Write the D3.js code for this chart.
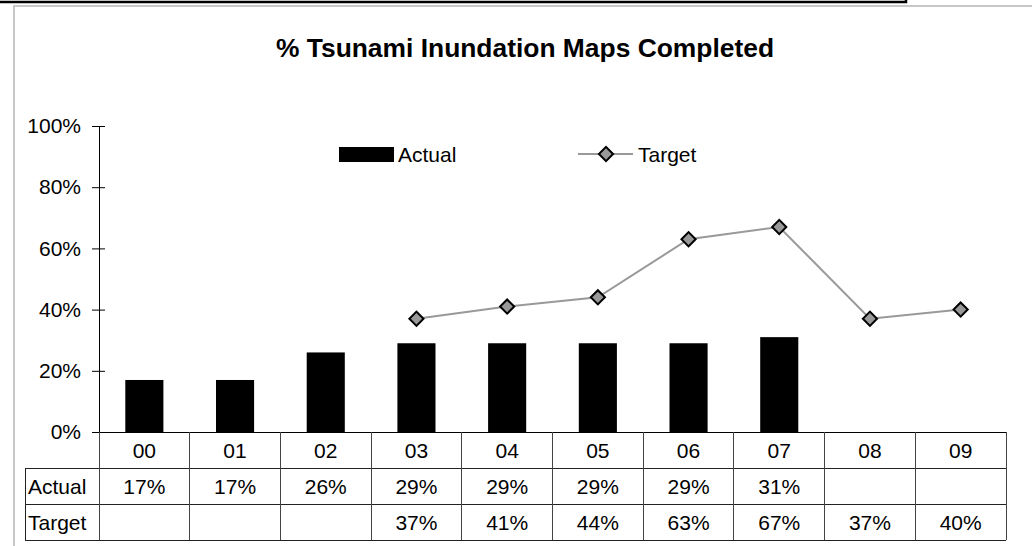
<!DOCTYPE html>
<html>
<head>
<meta charset="utf-8">
<script src="https://cdn.jsdelivr.net/npm/d3@7"></script>
<style>
  body { margin: 0; background: #fff; }
  svg { display: block; font-family: Arial, "Liberation Sans", sans-serif; }
</style>
</head>
<body>
<svg id="chart" width="1032" height="546"></svg>
<script>
// data
var years = ["00", "01", "02", "03", "04", "05", "06", "07", "08", "09"];
var actual = [17, 17, 26, 29, 29, 29, 29, 31, null, null];
var target = [null, null, null, 37, 41, 44, 63, 67, 37, 40];
var yTicks = [0, 20, 40, 60, 80, 100];

var svg = d3.select("#chart");
var fs = 21;

// frame bits from the original slide
svg.append("path")
    .attr("d", "M0,2 H906 V0")
    .attr("fill", "none")
    .attr("stroke", "#000")
    .attr("stroke-width", 2.5);
svg.append("path")
    .attr("d", "M14,546 V6 H1032")
    .attr("fill", "none")
    .attr("stroke", "#c8c8c8")
    .attr("stroke-width", 2);

// title
svg.append("text")
    .attr("x", 276)
    .attr("y", 57)
    .attr("font-size", 25)
    .attr("font-weight", "bold")
    .attr("textLength", 498)
    .attr("lengthAdjust", "spacingAndGlyphs")
    .text("% Tsunami Inundation Maps Completed");

var plotLeft = 99, plotRight = 1006, plotTop = 126, plotBottom = 432;

var x = d3.scaleBand().domain(years).range([plotLeft, plotRight]).padding(0);
var y = d3.scaleLinear().domain([0, 100]).range([plotBottom, plotTop]);

// y axis with crossing ticks
var yAxis = svg.append("g")
    .attr("transform", "translate(" + plotLeft + ",0)")
    .call(d3.axisLeft(y).tickValues(yTicks).tickSizeInner(7).tickSizeOuter(0)
        .tickPadding(11).tickFormat(function (d) { return d + "%"; }));
yAxis.select(".domain").attr("stroke", "#000");
yAxis.selectAll(".tick line").attr("x2", -7).attr("x1", 6).attr("stroke", "#000");
yAxis.selectAll(".tick text")
    .attr("font-size", fs)
    .attr("font-family", "Arial, 'Liberation Sans', sans-serif")
    .attr("fill", "#000");

// bars
var bw = x.bandwidth() * 0.42;
svg.append("g").selectAll("rect")
    .data(years.map(function (d, i) { return { year: d, v: actual[i] }; })
        .filter(function (d) { return d.v != null; }))
    .join("rect")
    .attr("x", function (d) { return x(d.year) + (x.bandwidth() - bw) / 2; })
    .attr("y", function (d) { return y(d.v); })
    .attr("width", bw)
    .attr("height", function (d) { return plotBottom - y(d.v); })
    .attr("fill", "#000");

// target line
var tData = years.map(function (d, i) { return { year: d, v: target[i] }; })
    .filter(function (d) { return d.v != null; });
var line = d3.line()
    .x(function (d) { return x(d.year) + x.bandwidth() / 2; })
    .y(function (d) { return y(d.v); });
svg.append("path")
    .datum(tData)
    .attr("fill", "none")
    .attr("stroke", "#999")
    .attr("stroke-width", 2)
    .attr("d", line);

var diamond = d3.symbol().type(d3.symbolSquare).size(100);
svg.append("g").selectAll("path")
    .data(tData)
    .join("path")
    .attr("d", diamond)
    .attr("transform", function (d) {
        return "translate(" + (x(d.year) + x.bandwidth() / 2) + "," + y(d.v) + ") rotate(45)";
    })
    .attr("fill", "#999")
    .attr("stroke", "#000")
    .attr("stroke-width", 2);

// legend
var lg = svg.append("g");
lg.append("rect").attr("x", 339).attr("y", 147).attr("width", 55).attr("height", 15).attr("fill", "#000");
lg.append("text").attr("x", 398).attr("y", 162).attr("font-size", fs).text("Actual");
lg.append("line").attr("x1", 578).attr("x2", 633).attr("y1", 154).attr("y2", 154)
    .attr("stroke", "#999").attr("stroke-width", 2);
lg.append("path").attr("d", diamond)
    .attr("transform", "translate(606,154) rotate(45)")
    .attr("fill", "#999").attr("stroke", "#000").attr("stroke-width", 2);
lg.append("text").attr("x", 638).attr("y", 162).attr("font-size", fs).text("Target");

// data table
var rowH = 36, tableLeft = 25;
var r1 = plotBottom, r2 = plotBottom + rowH, r3 = plotBottom + 2 * rowH, r4 = plotBottom + 3 * rowH;
var tbl = svg.append("g").attr("stroke", "#222").attr("stroke-width", 1).attr("shape-rendering", "crispEdges");
tbl.append("line").attr("x1", plotLeft).attr("x2", plotRight).attr("y1", r1).attr("y2", r1).attr("stroke", "#000");
[r2, r3, r4].forEach(function (yy) {
    tbl.append("line").attr("x1", tableLeft).attr("x2", plotRight).attr("y1", yy).attr("y2", yy);
});
tbl.append("line").attr("x1", tableLeft).attr("x2", tableLeft).attr("y1", r2).attr("y2", r4);
years.forEach(function (d) {
    tbl.append("line").attr("x1", x(d)).attr("x2", x(d)).attr("y1", r1).attr("y2", r4).attr("stroke", "#444");
});
tbl.append("line").attr("x1", plotRight).attr("x2", plotRight).attr("y1", r1).attr("y2", r4).attr("stroke", "#444");

var txt = svg.append("g").attr("font-size", fs).attr("text-anchor", "middle");
years.forEach(function (d, i) {
    var cx = x(d) + x.bandwidth() / 2;
    txt.append("text").attr("x", cx).attr("y", r1 + 26).text(d);
    if (actual[i] != null) txt.append("text").attr("x", cx).attr("y", r2 + 26).text(actual[i] + "%");
    if (target[i] != null) txt.append("text").attr("x", cx).attr("y", r3 + 26).text(target[i] + "%");
});
svg.append("text").attr("x", 28).attr("y", r2 + 26).attr("font-size", fs).text("Actual");
svg.append("text").attr("x", 28).attr("y", r3 + 26).attr("font-size", fs).text("Target");
</script>
</body>
</html>
